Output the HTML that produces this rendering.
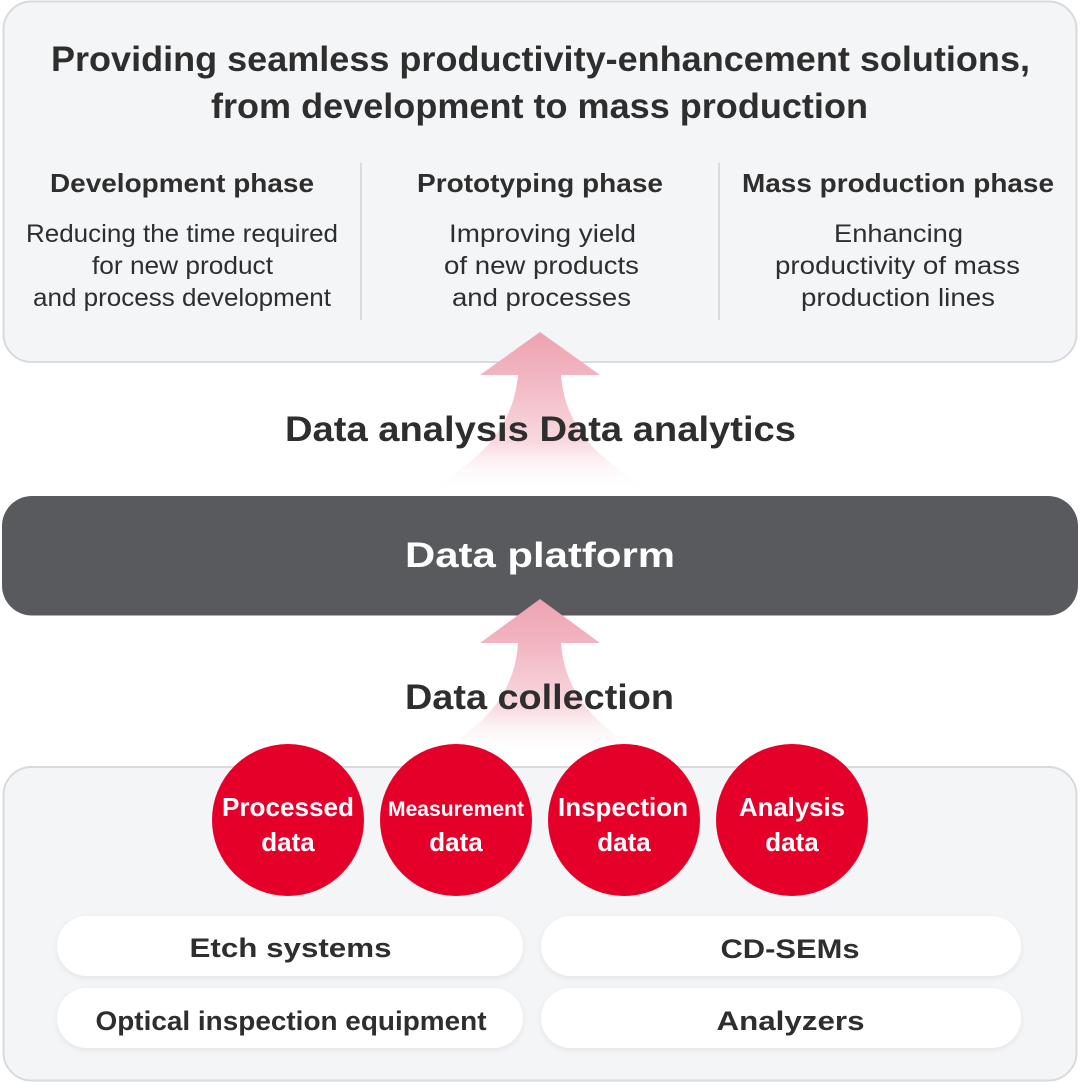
<!DOCTYPE html>
<html>
<head>
<meta charset="utf-8">
<style>
  html, body { margin: 0; padding: 0; background: #ffffff; }
  body { width: 1080px; height: 1082px; overflow: hidden; }
  svg { display: block; }
  text { font-family: "Liberation Sans", Arial, sans-serif; }
  .b { font-weight: bold; }
  .dk { fill: #2e2e2e; }
  .wh { fill: #ffffff; }
</style>
</head>
<body>
<svg width="1080" height="1082" viewBox="0 0 1080 1082" xmlns="http://www.w3.org/2000/svg">
  <defs>
    <linearGradient id="g1" gradientUnits="userSpaceOnUse" x1="0" y1="332" x2="0" y2="490">
      <stop offset="0" stop-color="#eea2b1" stop-opacity="1"/>
      <stop offset="0.3" stop-color="#f2b6c2" stop-opacity="1"/>
      <stop offset="0.7" stop-color="#f7d2d9" stop-opacity="0.85"/>
      <stop offset="1" stop-color="#ffffff" stop-opacity="0"/>
    </linearGradient>
    <linearGradient id="g2" gradientUnits="userSpaceOnUse" x1="0" y1="599" x2="0" y2="754">
      <stop offset="0" stop-color="#eea2b1" stop-opacity="1"/>
      <stop offset="0.3" stop-color="#f2b6c2" stop-opacity="1"/>
      <stop offset="0.7" stop-color="#f7d2d9" stop-opacity="0.85"/>
      <stop offset="1" stop-color="#ffffff" stop-opacity="0"/>
    </linearGradient>
    <filter id="sh" x="-10%" y="-30%" width="120%" height="170%">
      <feDropShadow dx="0" dy="2" stdDeviation="3" flood-color="#000000" flood-opacity="0.07"/>
    </filter>
  </defs>

  <!-- Top box -->
  <rect x="3.5" y="1.5" width="1073" height="360.5" rx="28" ry="28" fill="#f4f5f7" stroke="#d9dadd" stroke-width="2"/>

  <text class="b dk" x="51" y="71" font-size="35" textLength="979" lengthAdjust="spacingAndGlyphs">Providing seamless productivity-enhancement solutions,</text>
  <text class="b dk" x="211" y="118" font-size="35" textLength="657" lengthAdjust="spacingAndGlyphs">from development to mass production</text>

  <line x1="361" y1="163" x2="361" y2="320" stroke="#d3d4d8" stroke-width="1.5"/>
  <line x1="719" y1="163" x2="719" y2="320" stroke="#d3d4d8" stroke-width="1.5"/>

  <text class="b dk" x="50" y="192" font-size="26" textLength="264" lengthAdjust="spacingAndGlyphs">Development phase</text>
  <text class="b dk" x="417" y="192" font-size="26" textLength="246" lengthAdjust="spacingAndGlyphs">Prototyping phase</text>
  <text class="b dk" x="742" y="192" font-size="26" textLength="312" lengthAdjust="spacingAndGlyphs">Mass production phase</text>

  <text class="dk" x="26" y="242" font-size="25" textLength="312" lengthAdjust="spacingAndGlyphs">Reducing the time required</text>
  <text class="dk" x="92" y="274" font-size="25" textLength="181" lengthAdjust="spacingAndGlyphs">for new product</text>
  <text class="dk" x="33" y="306" font-size="25" textLength="298" lengthAdjust="spacingAndGlyphs">and process development</text>

  <text class="dk" x="449" y="242" font-size="25" textLength="187" lengthAdjust="spacingAndGlyphs">Improving yield</text>
  <text class="dk" x="444" y="274" font-size="25" textLength="195" lengthAdjust="spacingAndGlyphs">of new products</text>
  <text class="dk" x="452" y="306" font-size="25" textLength="179" lengthAdjust="spacingAndGlyphs">and processes</text>

  <text class="dk" x="834" y="242" font-size="25" textLength="129" lengthAdjust="spacingAndGlyphs">Enhancing</text>
  <text class="dk" x="775" y="274" font-size="25" textLength="245" lengthAdjust="spacingAndGlyphs">productivity of mass</text>
  <text class="dk" x="801" y="306" font-size="25" textLength="194" lengthAdjust="spacingAndGlyphs">production lines</text>

  <!-- Arrow 1 -->
  <path d="M540,332 L600,375 L561,375 Q566,448 655,490 L425,490 Q512,448 518,375 L480,375 Z" fill="url(#g1)"/>
  <text class="b dk" x="285" y="441" font-size="35" textLength="511" lengthAdjust="spacingAndGlyphs">Data analysis Data analytics</text>

  <!-- Data platform -->
  <rect x="2" y="496" width="1076" height="119.5" rx="30" ry="30" fill="#585a5e"/>
  <text class="b wh" x="405" y="567" font-size="35" textLength="270" lengthAdjust="spacingAndGlyphs">Data platform</text>

  <!-- Bottom box -->
  <rect x="3.5" y="767" width="1073" height="313.5" rx="28" ry="28" fill="#f4f5f7" stroke="#d9dadd" stroke-width="2"/>

  <!-- Arrow 2 -->
  <path d="M540,599 L600,643 L561,643 Q566,714 648,754 L432,754 Q514,714 518,643 L480,643 Z" fill="url(#g2)"/>
  <text class="b dk" x="405" y="709" font-size="35" textLength="269" lengthAdjust="spacingAndGlyphs">Data collection</text>

  <!-- Circles -->
  <circle cx="288" cy="820" r="76" fill="#e5002a"/>
  <circle cx="456" cy="820" r="76" fill="#e5002a"/>
  <circle cx="624" cy="820" r="76" fill="#e5002a"/>
  <circle cx="792" cy="820" r="76" fill="#e5002a"/>

  <text class="b wh" x="222" y="816" font-size="26" textLength="132" lengthAdjust="spacingAndGlyphs">Processed</text>
  <text class="b wh" x="288" y="851" font-size="26" text-anchor="middle">data</text>

  <text class="b wh" x="388" y="816" font-size="21" textLength="136" lengthAdjust="spacingAndGlyphs">Measurement</text>
  <text class="b wh" x="456" y="851" font-size="26" text-anchor="middle">data</text>

  <text class="b wh" x="558" y="816" font-size="26" textLength="130" lengthAdjust="spacingAndGlyphs">Inspection</text>
  <text class="b wh" x="624" y="851" font-size="26" text-anchor="middle">data</text>

  <text class="b wh" x="739" y="816" font-size="26" textLength="106" lengthAdjust="spacingAndGlyphs">Analysis</text>
  <text class="b wh" x="792" y="851" font-size="26" text-anchor="middle">data</text>

  <!-- Pills -->
  <g filter="url(#sh)">
    <rect x="57" y="916" width="466" height="60" rx="30" ry="30" fill="#ffffff"/>
    <rect x="541" y="916" width="480" height="60" rx="30" ry="30" fill="#ffffff"/>
    <rect x="57" y="988" width="466" height="60" rx="30" ry="30" fill="#ffffff"/>
    <rect x="541" y="988" width="480" height="60" rx="30" ry="30" fill="#ffffff"/>
  </g>

  <text class="b dk" x="189.5" y="957" font-size="27" textLength="202" lengthAdjust="spacingAndGlyphs">Etch systems</text>
  <text class="b dk" x="720.5" y="958" font-size="27" textLength="139" lengthAdjust="spacingAndGlyphs">CD-SEMs</text>
  <text class="b dk" x="95.5" y="1030" font-size="27" textLength="391" lengthAdjust="spacingAndGlyphs">Optical inspection equipment</text>
  <text class="b dk" x="716.5" y="1030" font-size="27" textLength="148" lengthAdjust="spacingAndGlyphs">Analyzers</text>
</svg>
</body>
</html>
